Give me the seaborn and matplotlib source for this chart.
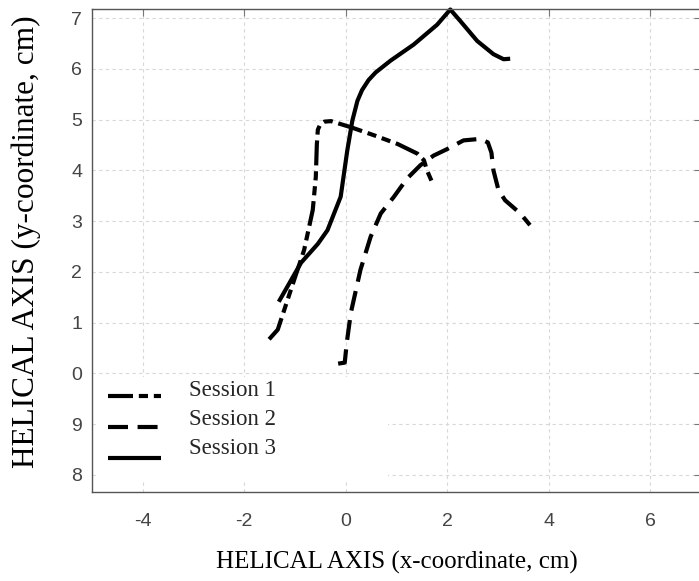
import matplotlib
matplotlib.use("Agg")
import matplotlib.pyplot as plt
import matplotlib.transforms as mtransforms
import seaborn as sns
import pandas as pd

# ---- data ----
s1_x = [-1.51, -1.34, -1.08, -0.82, -0.65, -0.59, -0.57, -0.55, -0.50, -0.42, -0.29, 0.10, 0.56, 1.02, 1.41, 1.54, 1.60, 1.70]
s1_y = [0.67, 0.86, 1.65, 2.43, 3.22, 3.87, 4.50, 4.80, 4.91, 4.96, 4.97, 4.85, 4.69, 4.52, 4.33, 4.20, 4.00, 3.77]

s2_x = [-0.15, -0.02, 0.02, 0.10, 0.29, 0.49, 0.69, 0.95, 1.21, 1.47, 1.73, 2.00, 2.32, 2.65, 2.80, 2.87, 2.91, 3.01, 3.14, 3.44, 3.63]
s2_y = [0.19, 0.21, 0.60, 1.19, 2.04, 2.69, 3.15, 3.48, 3.84, 4.10, 4.29, 4.42, 4.59, 4.62, 4.55, 4.35, 4.00, 3.61, 3.41, 3.15, 2.92]

s3_x = [-1.32, -0.88, -0.55, -0.36, -0.10, 0.03, 0.13, 0.23, 0.32, 0.45, 0.59, 0.88, 1.34, 1.80, 2.06, 2.26, 2.59, 2.91, 3.11, 3.24]
s3_y = [1.41, 2.18, 2.55, 2.82, 3.48, 4.39, 4.98, 5.37, 5.58, 5.78, 5.93, 6.16, 6.48, 6.87, 7.17, 6.94, 6.55, 6.29, 6.19, 6.20]

series_labels = ["Session 1", "Session 2", "Session 3"]
x_ticks = [-4, -2, 0, 2, 4, 6]
x_tick_labels = ["-4", "-2", "0", "2", "4", "6"]
y_ticks = [-2, -1, 0, 1, 2, 3, 4, 5, 6, 7]
y_tick_labels = ["8", "9", "0", "1", "2", "3", "4", "5", "6", "7"]

x_label = "HELICAL AXIS (x-coordinate, cm)"
y_label = "HELICAL AXIS (y-coordinate, cm)"

# ---- figure ----
sns.set_theme(style="white")
plt.rcParams["axes.unicode_minus"] = False

W, H = 699, 581
fig = plt.figure(figsize=(W / 100, H / 100), dpi=100)
ax_left, ax_right, ax_top, ax_bottom = 92, 701, 9, 492
ax_h = ax_bottom - ax_top
ax_w = ax_right - ax_left
ax = fig.add_axes([ax_left / W, 1 - ax_bottom / H, ax_w / W, ax_h / H])

styles = [
    (0, (6, 1.4, 2.2, 1.4, 2.2, 1.4)),
    (0, (4.8, 2.3)),
    "-",
]
data = [(s1_x, s1_y), (s2_x, s2_y), (s3_x, s3_y)]
for (xs, ys), lab, ls in zip(data, series_labels, styles):
    df = pd.DataFrame({"x": xs, "y": ys})
    sns.lineplot(data=df, x="x", y="y", sort=False, estimator=None, ax=ax,
                 color="black", linewidth=3.0, linestyle=ls, label=lab,
                 clip_on=False, solid_capstyle="butt", dash_capstyle="butt",
                 solid_joinstyle="round", dash_joinstyle="round")

ax.set_xlim(-5, 7)
ax.set_ylim(-2.34, 7.18)
ax.set_xticks(x_ticks)
ax.set_xticklabels(x_tick_labels)
ax.set_yticks(y_ticks)
ax.set_yticklabels(y_tick_labels)

ax.grid(True, color="#d8d8d8", linestyle=(0, (3, 3)), linewidth=0.8)
ax.set_axisbelow(True)

for name, sp in ax.spines.items():
    sp.set_color("#555555")
    sp.set_linewidth(1.0)
ax.spines["right"].set_visible(False)

ax.tick_params(axis="both", direction="in", length=5, width=0.8, color="#777777",
               labelcolor="#444444", labelsize=14, top=True, right=True)
ax.tick_params(axis="x", pad=15)
ax.tick_params(axis="y", pad=7)
for t in ax.get_xticklabels() + ax.get_yticklabels():
    t.set_fontfamily("Liberation Sans")

ax.set_xlabel(x_label, fontfamily="Liberation Serif", fontsize=18, color="black", labelpad=15)
ax.set_ylabel(y_label, fontfamily="Liberation Serif", fontsize=22.5, color="black", labelpad=22)
ax.yaxis.label.set_y((ax_bottom - 242) / ax_h)

leg_left, leg_right, leg_top = 97, 388, 377
leg = ax.legend(loc="upper left",
                bbox_to_anchor=((leg_left - ax_left) / ax_w, 0,
                                (leg_right - leg_left) / ax_w, (ax_bottom - leg_top) / ax_h),
                mode="expand",
                frameon=True, fancybox=False, framealpha=1.0, edgecolor="white",
                facecolor="white", prop={"family": "Liberation Serif", "size": 16.5},
                handlelength=2.3, handletextpad=1.2, labelspacing=0.42,
                borderpad=0.5, borderaxespad=0)
leg.get_frame().set_linewidth(0)
for i, t in enumerate(leg.get_texts()):
    t.set_transform(t.get_transform() + mtransforms.Affine2D().translate(0, 8 + 2 * i))

fig.savefig("out.png", dpi=100)
